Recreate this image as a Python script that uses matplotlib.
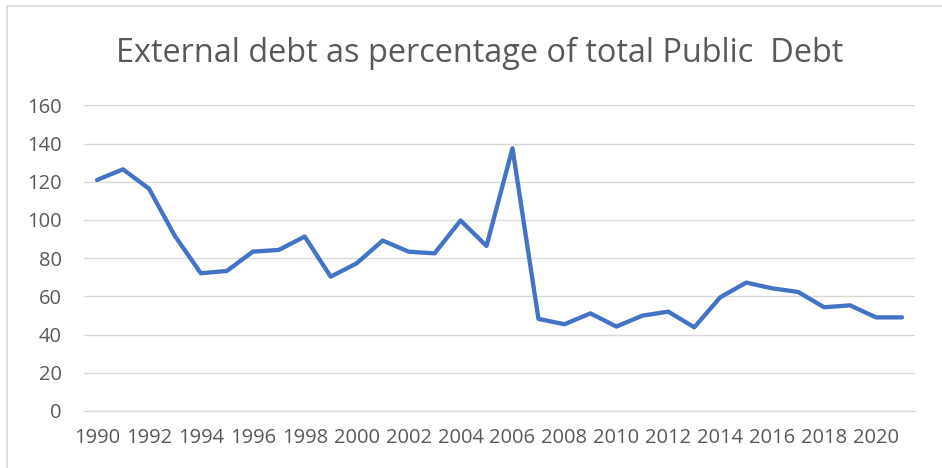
import matplotlib
matplotlib.use("Agg")
import matplotlib.pyplot as plt
from matplotlib.patches import Rectangle

years = list(range(1990, 2022))
ext_debt_pct = [120.9, 126.5, 116.4, 91.6, 72.1, 73.3, 83.4, 84.3, 91.3, 70.3,
                77.3, 89.2, 83.4, 82.5, 99.7, 86.4, 137.5, 48.2, 45.4, 51.1,
                44.2, 49.9, 52.0, 43.8, 59.5, 67.2, 64.2, 62.3, 54.3, 55.3,
                49.0, 49.0]
yticks = [0, 20, 40, 60, 80, 100, 120, 140, 160]
xticks = list(range(1990, 2021, 2))

plt.rcParams['font.family'] = ['Open Sans', 'DejaVu Sans']
text_color = '#595959'
grid_color = '#D9D9D9'

W, H = 942, 468
fig = plt.figure(figsize=(W / 100, H / 100), dpi=100)
# chart-area border (top and left edges visible, rest runs off the image)
fig.patches.append(Rectangle((7 / W, -0.05), 1.1, (H - 6) / H + 0.05,
                             transform=fig.transFigure, fill=False,
                             edgecolor='#D9D9D9', linewidth=1.2))
ax = fig.add_axes([84 / W, 57 / H, 831 / W, 305.7 / H])

ax.plot(years, ext_debt_pct, color='#4472C4', linewidth=3.1,
        solid_capstyle='round', solid_joinstyle='round', zorder=3)

ax.set_xlim(1989.5, 2021.5)
ax.set_ylim(0, 160)
ax.set_yticks(yticks)
ax.set_xticks(xticks)
ax.set_xticklabels([str(y) for y in xticks])
ax.yaxis.grid(True, color=grid_color, linewidth=1.0)
ax.set_axisbelow(True)
for s in ['top', 'right', 'left']:
    ax.spines[s].set_visible(False)
ax.spines['bottom'].set_color(grid_color)
ax.tick_params(axis='both', length=0, labelsize=14.5, colors=text_color)
ax.tick_params(axis='y', pad=16)
ax.tick_params(axis='x', pad=12.5)

fig.text(0.509, 0.887, 'External debt as percentage of total Public  Debt',
         ha='center', va='center', fontsize=23.4, color=text_color)

fig.savefig('out.png', dpi=100)
